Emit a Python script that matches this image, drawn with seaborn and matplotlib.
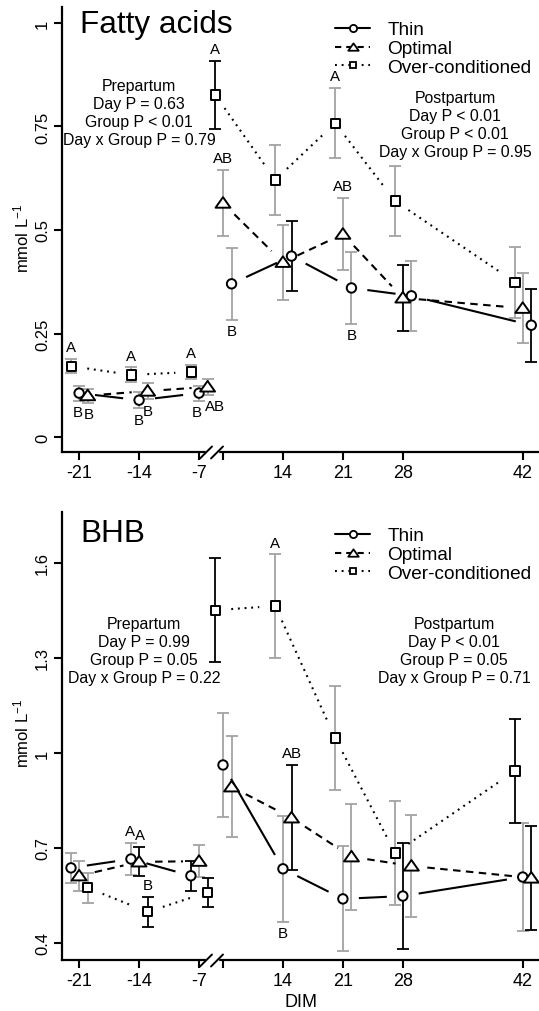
import numpy as np
import pandas as pd
import matplotlib
matplotlib.use("Agg")
import matplotlib.pyplot as plt
import seaborn as sns
from matplotlib.lines import Line2D
from matplotlib.path import Path

sns.set_theme(style="ticks")
plt.rcParams['font.family'] = ['Liberation Sans', 'DejaVu Sans']
plt.rcParams['mathtext.fontset'] = 'custom'
plt.rcParams['mathtext.rm'] = 'Liberation Sans'
plt.rcParams['mathtext.it'] = 'Liberation Sans:italic'
plt.rcParams['mathtext.default'] = 'regular'
plt.rcParams['text.color'] = 'black'
plt.rcParams['axes.labelcolor'] = 'black'
plt.rcParams['xtick.color'] = 'black'
plt.rcParams['ytick.color'] = 'black'

# ---------------- data ----------------
groups = ["Thin", "Optimal", "Over-conditioned"]
days_pre = [-21, -14, -7]
days_post = [7, 14, 21, 28, 42]
tick_days = [-21, -14, -7, 7, 14, 21, 28, 42]
tick_labels = ["-21", "-14", "-7", "", "14", "21", "28", "42"]

# Fatty acids (mmol/L), days -21,-14,-7,7,14,21,28,42
fa_thin = [0.106, 0.089, 0.106, 0.370, 0.437, 0.360, 0.341, 0.270]
fa_opt = [0.100, 0.111, 0.121, 0.565, 0.422, 0.490, 0.336, 0.311]
fa_over = [0.171, 0.150, 0.157, 0.826, 0.621, 0.758, 0.570, 0.374]
fa_thin_se = [0.018, 0.020, 0.018, 0.087, 0.085, 0.087, 0.085, 0.088]
fa_opt_se = [0.017, 0.020, 0.020, 0.080, 0.090, 0.087, 0.080, 0.085]
fa_over_se = [0.017, 0.018, 0.018, 0.083, 0.085, 0.085, 0.085, 0.086]

# BHB (mmol/L)
bhb_thin = [0.637, 0.665, 0.612, 0.962, 0.634, 0.539, 0.548, 0.608]
bhb_opt = [0.612, 0.656, 0.658, 0.893, 0.795, 0.672, 0.643, 0.605]
bhb_over = [0.574, 0.498, 0.560, 1.451, 1.464, 1.047, 0.684, 0.943]
bhb_thin_se = [0.047, 0.050, 0.048, 0.164, 0.167, 0.166, 0.167, 0.170]
bhb_opt_se = [0.047, 0.046, 0.050, 0.160, 0.166, 0.167, 0.160, 0.163]
bhb_over_se = [0.048, 0.047, 0.046, 0.165, 0.163, 0.165, 0.165, 0.164]

fa_pre_stats = ["Prepartum", "Day P = 0.63", "Group P < 0.01", "Day x Group P = 0.79"]
fa_post_stats = ["Postpartum", "Day P < 0.01", "Group P < 0.01", "Day x Group P = 0.95"]
bhb_pre_stats = ["Prepartum", "Day P = 0.99", "Group P = 0.05", "Day x Group P = 0.22"]
bhb_post_stats = ["Postpartum", "Day P < 0.01", "Group P = 0.05", "Day x Group P = 0.71"]

# significance letters: group, day, letter, side
fa_letter_group = ["Over-conditioned", "Thin", "Optimal", "Over-conditioned", "Thin", "Optimal",
                   "Over-conditioned", "Thin", "Optimal", "Over-conditioned", "Optimal", "Thin",
                   "Over-conditioned", "Optimal", "Thin"]
fa_letter_day = [-21, -21, -21, -14, -14, -14, -7, -7, -7, 7, 7, 7, 21, 21, 21]
fa_letter_text = ["A", "B", "B", "A", "B", "B", "A", "B", "AB", "A", "AB", "B", "A", "AB", "B"]
fa_letter_side = ["up", "down", "down", "up", "down", "down", "up", "down", "down",
                  "up", "up", "down", "up", "up", "down"]

bhb_letter_group = ["Thin", "Optimal", "Over-conditioned", "Over-conditioned", "Optimal", "Thin"]
bhb_letter_day = [-14, -14, -14, 14, 14, 14]
bhb_letter_text = ["A", "A", "B", "A", "AB", "B"]
bhb_letter_side = ["up", "up", "up", "up", "up", "down"]

# ---------------- styles / layout ----------------
W, H = 539, 1012
POST_SHIFT = 11.2
GRAY = "#a3a3a3"
K = "black"
# horizontal nudges (points) for letters, in the same order as the letter lists
fa_letter_dx = [0, -1, 1, 0, 0, 0, 0, -1.5, 5.5, 0, 0, 0, 0, 0, 0]
bhb_letter_dx = [-1, 1, 0, 0, 0, 0]
# error-bar colours per group (8 days)
fa_bar_col = {"Thin": [GRAY, GRAY, GRAY, GRAY, K, GRAY, GRAY, K],
              "Optimal": [GRAY, GRAY, GRAY, GRAY, GRAY, GRAY, K, GRAY],
              "Over-conditioned": [GRAY, GRAY, GRAY, K, GRAY, GRAY, GRAY, GRAY]}
bhb_bar_col = {"Thin": [GRAY, GRAY, K, GRAY, GRAY, GRAY, K, GRAY],
               "Optimal": [GRAY, K, GRAY, GRAY, K, GRAY, GRAY, K],
               "Over-conditioned": [GRAY, K, K, K, GRAY, GRAY, GRAY, K]}
# horizontal dodge (days) per period
fa_off = {"pre": {"Thin": 0.0, "Optimal": 1.0, "Over-conditioned": -0.9},
          "post": {"Thin": 1.0, "Optimal": 0.0, "Over-conditioned": -0.9}}
bhb_off = {"pre": {"Thin": -0.95, "Optimal": 0.0, "Over-conditioned": 1.0},
           "post": {"Thin": 0.0, "Optimal": 1.0, "Over-conditioned": -0.9}}

tri = Path([(-1, -0.62), (1, -0.62), (0, 0.8), (-1, -0.62)],
           [Path.MOVETO, Path.LINETO, Path.LINETO, Path.CLOSEPOLY])
marker_map = {"Thin": "o", "Optimal": tri, "Over-conditioned": "s"}
size_map = {"Thin": 46, "Optimal": 115, "Over-conditioned": 44}
line_kw = {"Thin": dict(ls="-"),
           "Optimal": dict(ls=(0, (3.6, 2.6))),
           "Over-conditioned": dict(ls=(0, (0.9, 2.3)))}


def pos_of(d):
    return d if d < 0 else d - POST_SHIFT


def build(means, ses, offs):
    rows = []
    all_days = days_pre + days_post
    for g, m, s in zip(groups, means, ses):
        for i, d in enumerate(all_days):
            per = "pre" if d < 0 else "post"
            rows.append(dict(group=g, dim=d, idx=i, period=per, mean=m[i], se=s[i],
                             pos=pos_of(d) + offs[per][g]))
    return pd.DataFrame(rows)


def gapped_line(ax, xs, ys, gap_px, **kw):
    pts = ax.transData.transform(np.column_stack([xs, ys]))
    inv = ax.transData.inverted()
    for p0, p1 in zip(pts[:-1], pts[1:]):
        d = p1 - p0
        L = np.hypot(*d)
        if L <= 2 * gap_px:
            continue
        u = d / L
        seg = inv.transform(np.vstack([p0 + u * gap_px, p1 - u * gap_px]))
        ax.plot(seg[:, 0], seg[:, 1], color="black", lw=1.5, solid_capstyle="butt",
                dash_capstyle="butt", zorder=3, **kw)


fig = plt.figure(figsize=(W / 100, H / 100), dpi=100)


def px2fig(x, y):
    return x / W, 1 - y / H


def panel(rect, df, bar_col, ylim, yticks, yticklabels, title, title_base,
          stats_pre, stats_post, pre_xy, post_xy, letters, letter_dx, ylab_y, spine_y,
          legend_top, show_xlabel):
    ax = fig.add_axes(rect)
    for g in groups:
        sub = df[df.group == g]
        for _, r in sub.iterrows():
            ax.errorbar(r["pos"], r["mean"], yerr=r["se"], fmt="none",
                        ecolor=bar_col[g][int(r["idx"])], elinewidth=1.3,
                        capsize=4.2, capthick=1.3, zorder=2)
    sns.scatterplot(data=df, x="pos", y="mean", style="group", size="group",
                    markers=marker_map, sizes=size_map, style_order=groups,
                    size_order=groups, color="white", edgecolor="black",
                    linewidth=1.4, legend=False, ax=ax, zorder=5)
    ax.set_xlim(-23, 32.7)
    ax.set_ylim(*ylim)
    for g in groups:
        for per in ["pre", "post"]:
            sub = df[(df.group == g) & (df.period == per)].sort_values("dim")
            gapped_line(ax, sub["pos"].values, sub["mean"].values, 16, **line_kw[g])
    # letters
    lg, ld, lt, ls = letters
    for g, d, t, s, dx in zip(lg, ld, lt, ls, letter_dx):
        r = df[(df.group == g) & (df.dim == d)].iloc[0]
        if s == "up":
            ax.annotate(t, (r["pos"], r["mean"] + r["se"]), xytext=(dx, 3.5),
                        textcoords="offset points", ha="center", va="bottom",
                        fontsize=10.8, zorder=6)
        else:
            ax.annotate(t, (r["pos"], r["mean"] - r["se"]), xytext=(dx, -3),
                        textcoords="offset points", ha="center", va="top",
                        fontsize=10.8, zorder=6)
    ax.set_xticks([pos_of(d) for d in tick_days])
    ax.set_xticklabels(tick_labels)
    ax.set_yticks(yticks)
    ax.set_yticklabels(yticklabels)
    ax.set_xlabel("")
    ax.set_ylabel("")
    for sp in ["top", "right"]:
        ax.spines[sp].set_visible(False)
    for sp in ["left", "bottom"]:
        ax.spines[sp].set_linewidth(1.6)
        ax.spines[sp].set_color("black")
    ax.tick_params(axis="both", direction="out", length=5.5, width=1.5, color="black",
                   labelcolor="black")
    ax.tick_params(axis="x", labelsize=13, pad=3)
    ax.tick_params(axis="y", labelsize=12, pad=3, labelrotation=90)
    for lab in ax.get_yticklabels():
        lab.set_va("center")
    ax.set_facecolor("white")
    # title
    fig.text(*px2fig(80, title_base), title, fontsize=22.7, ha="left", va="baseline",
             color="black")
    # stats
    fig.text(*px2fig(*pre_xy), "\n".join(stats_pre), fontsize=11.4, ha="center",
             va="center", linespacing=1.25, multialignment="center")
    fig.text(*px2fig(*post_xy), "\n".join(stats_post), fontsize=11.4, ha="center",
             va="center", linespacing=1.25, multialignment="center")
    # y label
    fig.text(*px2fig(21, ylab_y), "mmol L$^{-1}$", fontsize=12, rotation=90,
             ha="center", va="center")
    # axis break
    fig.add_artist(plt.Rectangle(px2fig(205.5, spine_y + 2.5), 12 / W, 5 / H,
                                 transform=fig.transFigure, color="white", zorder=10))
    for x0 in (200, 211):
        xa, ya = px2fig(x0, spine_y + 6.5)
        xb, yb = px2fig(x0 + 12, spine_y - 5.5)
        fig.add_artist(Line2D([xa, xb], [ya, yb], transform=fig.transFigure,
                              color="black", lw=1.4, zorder=11))
    # legend
    handles = [
        Line2D([], [], color="black", lw=1.5, ls="-", marker="o", markersize=5.2,
               markerfacecolor="white", markeredgecolor="black", markeredgewidth=1.3),
        Line2D([], [], color="black", lw=1.5, ls=(0, (3.0, 2.4)), marker=tri,
               markersize=7.5, markerfacecolor="white", markeredgecolor="black",
               markeredgewidth=1.3),
        Line2D([], [], color="black", lw=1.5, ls=(0, (0.9, 2.3)), marker="s",
               markersize=5.0, markerfacecolor="white", markeredgecolor="black",
               markeredgewidth=1.3),
    ]
    ax.legend(handles, groups, loc="upper left",
              bbox_to_anchor=px2fig(335, legend_top), bbox_transform=fig.transFigure,
              frameon=False, fontsize=13.7, handlelength=1.85, handletextpad=0.9,
              labelspacing=0.08, borderpad=0, borderaxespad=0)
    if show_xlabel:
        fig.text(*px2fig(301, 1003), "DIM", fontsize=13, ha="center", va="center")
    return ax


fa_df = build([fa_thin, fa_opt, fa_over], [fa_thin_se, fa_opt_se, fa_over_se], fa_off)
bhb_df = build([bhb_thin, bhb_opt, bhb_over], [bhb_thin_se, bhb_opt_se, bhb_over_se], bhb_off)

panel([62 / W, 1 - 453 / H, 1 - 62 / W, 445 / H], fa_df, fa_bar_col,
      (-0.0362, 1.0386), [0, 0.25, 0.5, 0.75, 1], ["0", "0.25", "0.5", "0.75", "1"],
      "Fatty acids", 33, fa_pre_stats, fa_post_stats, (139, 114), (455, 125.5),
      (fa_letter_group, fa_letter_day, fa_letter_text, fa_letter_side), fa_letter_dx,
      238, 453, 22, False)

panel([62 / W, 1 - 961 / H, 1 - 62 / W, 448 / H], bhb_df, bhb_bar_col,
      (0.346, 1.761), [0.4, 0.7, 1.0, 1.3, 1.6], ["0.4", "0.7", "1", "1.3", "1.6"],
      "BHB", 542, bhb_pre_stats, bhb_post_stats, (144, 652), (454, 652),
      (bhb_letter_group, bhb_letter_day, bhb_letter_text, bhb_letter_side), bhb_letter_dx,
      733, 961, 528, True)

fig.savefig("out.png", dpi=100, facecolor="white")
